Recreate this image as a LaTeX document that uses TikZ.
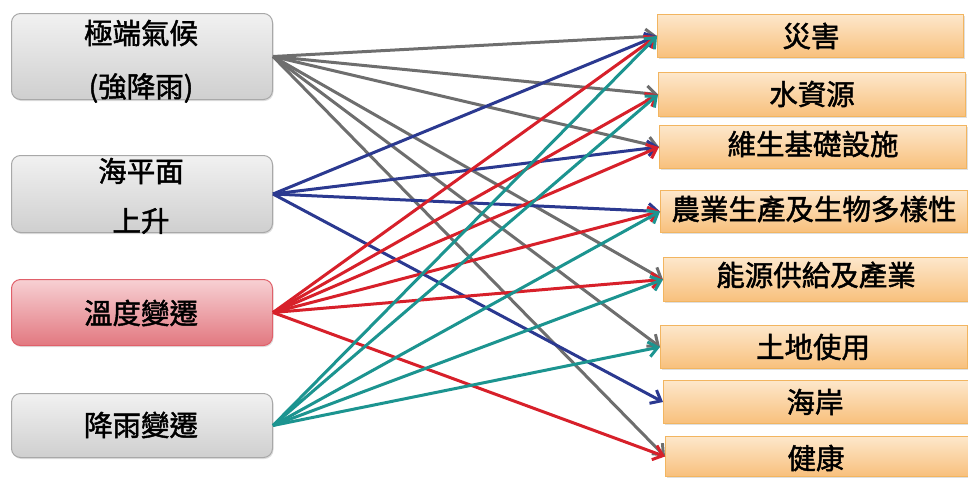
\documentclass[tikz,border=0pt]{standalone}
\usepackage{fontspec}
\setmainfont{Noto Sans CJK TC}[FakeBold=1.6]
\usetikzlibrary{arrows.meta,shadows}
\definecolor{arrgray}{HTML}{6E6E6E}
\definecolor{arrblue}{HTML}{2B3990}
\definecolor{arrred}{HTML}{D7202A}
\definecolor{arrteal}{HTML}{1C9490}
\definecolor{gtop}{HTML}{F1F1F1}
\definecolor{gbot}{HTML}{CFCFCF}
\definecolor{gbord}{HTML}{A8A8A8}
\definecolor{rtop}{HTML}{F7D0D3}
\definecolor{rbot}{HTML}{E27880}
\definecolor{rbord}{HTML}{E0606A}
\definecolor{otop}{HTML}{FDE7CB}
\definecolor{obot}{HTML}{F8C07C}
\definecolor{obord}{HTML}{F2B560}
\tikzset{
  lbox/.style={draw=gbord, line width=1pt, rounded corners=9pt, top color=gtop, bottom color=gbot,
    minimum width=261pt, inner sep=0pt, anchor=north west,
    drop shadow={shadow xshift=1pt, shadow yshift=-1.5pt, opacity=0.25}},
  redbox/.style={lbox, draw=rbord, top color=rtop, bottom color=rbot},
  rbox/.style={draw=obord, line width=1pt, top color=otop, bottom color=obot, inner sep=0pt,
    anchor=north west, drop shadow={shadow xshift=1.5pt, shadow yshift=-1.5pt, opacity=0.25}},
  lbl/.style={font=\fontsize{28.5}{31}\selectfont, inner sep=0pt, text=black},
  conn/.style={line width=3pt, -{Straight Barb[length=9pt,width=15pt]}},
}
\begin{document}
\begin{tikzpicture}[x=1pt,y=-1pt]
\useasboundingbox (0,0) rectangle (968,477);
% left boxes
\node[lbox, minimum height=86pt] (L1) at (11,13) {};
\node[lbl] (L1a) at (141,33) {極端氣候};
\node[lbl] (L1b) at (141,88) {(強降雨)};
\node[lbox, minimum height=77pt] (L2) at (11,155) {};
\node[lbl] (L2a) at (141,171) {海平面};
\node[lbl] (L2b) at (141,221) {上升};
\node[redbox, minimum height=66pt] (L3) at (11,279) {};
\node[lbl] (L3a) at (141,313) {溫度變遷};
\node[lbox, minimum height=64pt] (L4) at (11,393) {};
\node[lbl] (L4a) at (141,425) {降雨變遷};
% right boxes
\node[rbox, minimum width=306pt, minimum height=43pt] (R1) at (657,14) {};
\node[lbl] (R1t) at (811,36) {災害};
\node[rbox, minimum width=307pt, minimum height=44pt] (R2) at (658,72) {};
\node[lbl] (R2t) at (812,94) {水資源};
\node[rbox, minimum width=307pt, minimum height=43pt] (R3) at (659,125) {};
\node[lbl] (R3t) at (813,144) {維生基礎設施};
\node[rbox, minimum width=307pt, minimum height=42pt] (R4) at (660,190) {};
\node[lbl] (R4t) at (814,209) {農業生產及生物多樣性};
\node[rbox, minimum width=306pt, minimum height=44pt] (R5) at (663,257) {};
\node[lbl] (R5t) at (816,275) {能源供給及產業};
\node[rbox, minimum width=307pt, minimum height=43pt] (R6) at (660,325) {};
\node[lbl] (R6t) at (813,347) {土地使用};
\node[rbox, minimum width=305pt, minimum height=43pt] (R7) at (663,380) {};
\node[lbl] (R7t) at (815,402) {海岸};
\node[rbox, minimum width=303pt, minimum height=40pt] (R8) at (665,436) {};
\node[lbl] (R8t) at (816,458) {健康};
% connectors: gray
\foreach \t in {R1,R2,R3,R5,R6,R8} \draw[conn, arrgray] (L1.east) -- (\t.west);
% blue
\foreach \t in {R1,R3,R4,R7} \draw[conn, arrblue] (L2.east) -- (\t.west);
% red
\foreach \t in {R1,R2,R3,R4,R5,R8} \draw[conn, arrred] (L3.east) -- (\t.west);
% teal
\foreach \t in {R1,R2,R4,R5,R6} \draw[conn, arrteal] (L4.east) -- (\t.west);
\end{tikzpicture}
\end{document}
